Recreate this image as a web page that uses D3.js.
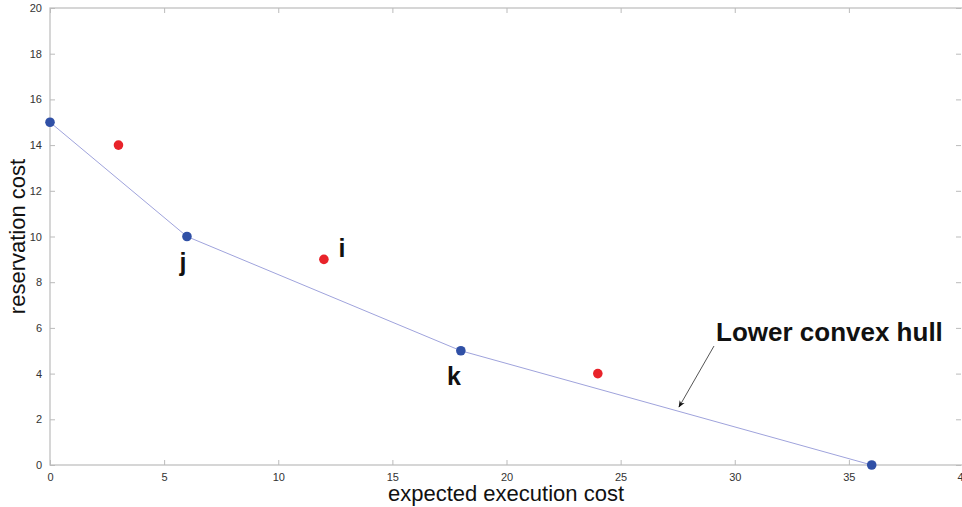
<!DOCTYPE html>
<html><head><meta charset="utf-8">
<script src="https://cdn.jsdelivr.net/npm/d3@7"></script>
<style>body{margin:0;background:#fff;}svg{display:block;}</style>
</head><body>
<svg id="c" width="962" height="507"></svg>
<script>
const hullX = [0, 6, 18, 36];
const hullY = [15, 10, 5, 0];
const otherX = [3, 12, 24];
const otherY = [14, 9, 4];
const xTicks = [0, 5, 10, 15, 20, 25, 30, 35, 40];
const yTicks = [0, 2, 4, 6, 8, 10, 12, 14, 16, 18, 20];
const pointLabels = ["j", "i", "k"];
const pointLabelX = [6, 12, 18];
const pointLabelY = [10, 9, 5];

const svg = d3.select("#c");
const L = 50, R = 963, T = 8, B = 465;
const x = d3.scaleLinear().domain([0, 40]).range([L, R]);
const y = d3.scaleLinear().domain([0, 20]).range([B, T]);
const axisColor = "#bbb";
const font = "Helvetica, Arial, 'Liberation Sans', sans-serif";

svg.append("rect").attr("x", L).attr("y", T).attr("width", R - L).attr("height", B - T)
  .attr("fill", "none").attr("stroke", axisColor).attr("stroke-width", 1.2);

function styleAxis(g, showText) {
  g.select(".domain").remove();
  g.selectAll("line").attr("stroke", axisColor).attr("stroke-width", 1);
  g.selectAll("text").attr("fill", "#333").style("font-family", font).style("font-size", "11px");
  if (!showText) g.selectAll("text").remove();
}
svg.append("g").attr("transform", `translate(0,${B})`)
  .call(d3.axisBottom(x).tickValues(xTicks).tickSize(-5).tickPadding(8).tickFormat(d3.format("d")))
  .call(g => styleAxis(g, true));
svg.append("g").attr("transform", `translate(0,${T})`)
  .call(d3.axisTop(x).tickValues(xTicks).tickSize(-5))
  .call(g => styleAxis(g, false));
svg.append("g").attr("transform", `translate(${L},0)`)
  .call(d3.axisLeft(y).tickValues(yTicks).tickSize(-5).tickPadding(8).tickFormat(d3.format("d")))
  .call(g => styleAxis(g, true));
svg.append("g").attr("transform", `translate(${R - 2},0)`)
  .call(d3.axisRight(y).tickValues(yTicks).tickSize(-5))
  .call(g => styleAxis(g, false));

const hull = hullX.map((v, i) => [v, hullY[i]]);
svg.append("path").datum(hull)
  .attr("d", d3.line().x(d => x(d[0])).y(d => y(d[1])))
  .attr("fill", "none").attr("stroke", "#9fa3dc").attr("stroke-width", 1);

svg.selectAll(".o").data(otherX.map((v, i) => [v, otherY[i]])).enter().append("circle")
  .attr("cx", d => x(d[0])).attr("cy", d => y(d[1])).attr("r", 4.8).attr("fill", "#e8232a");
svg.selectAll(".h").data(hull).enter().append("circle")
  .attr("cx", d => x(d[0])).attr("cy", d => y(d[1])).attr("r", 4.8).attr("fill", "#3050a6");

const offs = [[-4, 34], [18, -2], [-7, 34]];
pointLabels.forEach((t, i) => {
  svg.append("text").attr("x", x(pointLabelX[i]) + offs[i][0]).attr("y", y(pointLabelY[i]) + offs[i][1])
    .attr("text-anchor", "middle").style("font-family", font).style("font-weight", "bold")
    .style("font-size", "25px").attr("fill", "#111").text(t);
});

svg.append("text").attr("x", 716).attr("y", 341).style("font-family", font)
  .style("font-weight", "bold").style("font-size", "26px").attr("fill", "#111").text("Lower convex hull");
svg.append("defs").append("marker").attr("id", "ah").attr("viewBox", "0 0 10 10")
  .attr("refX", 9).attr("refY", 5).attr("markerWidth", 7).attr("markerHeight", 7).attr("orient", "auto")
  .append("path").attr("d", "M0,1 L10,5 L0,9 L3,5 Z").attr("fill", "#111");
svg.append("line").attr("x1", 714).attr("y1", 346).attr("x2", 679).attr("y2", 407)
  .attr("stroke", "#555").attr("stroke-width", 1).attr("marker-end", "url(#ah)");

svg.append("text").attr("x", 506).attr("y", 501).attr("text-anchor", "middle")
  .style("font-family", font).style("font-size", "22px").attr("fill", "#111").text("expected execution cost");
svg.append("text").attr("transform", `translate(25,${(T + B) / 2}) rotate(-90)`).attr("text-anchor", "middle")
  .style("font-family", font).style("font-size", "22px").attr("fill", "#111").text("reservation cost");
</script>
</body></html>
